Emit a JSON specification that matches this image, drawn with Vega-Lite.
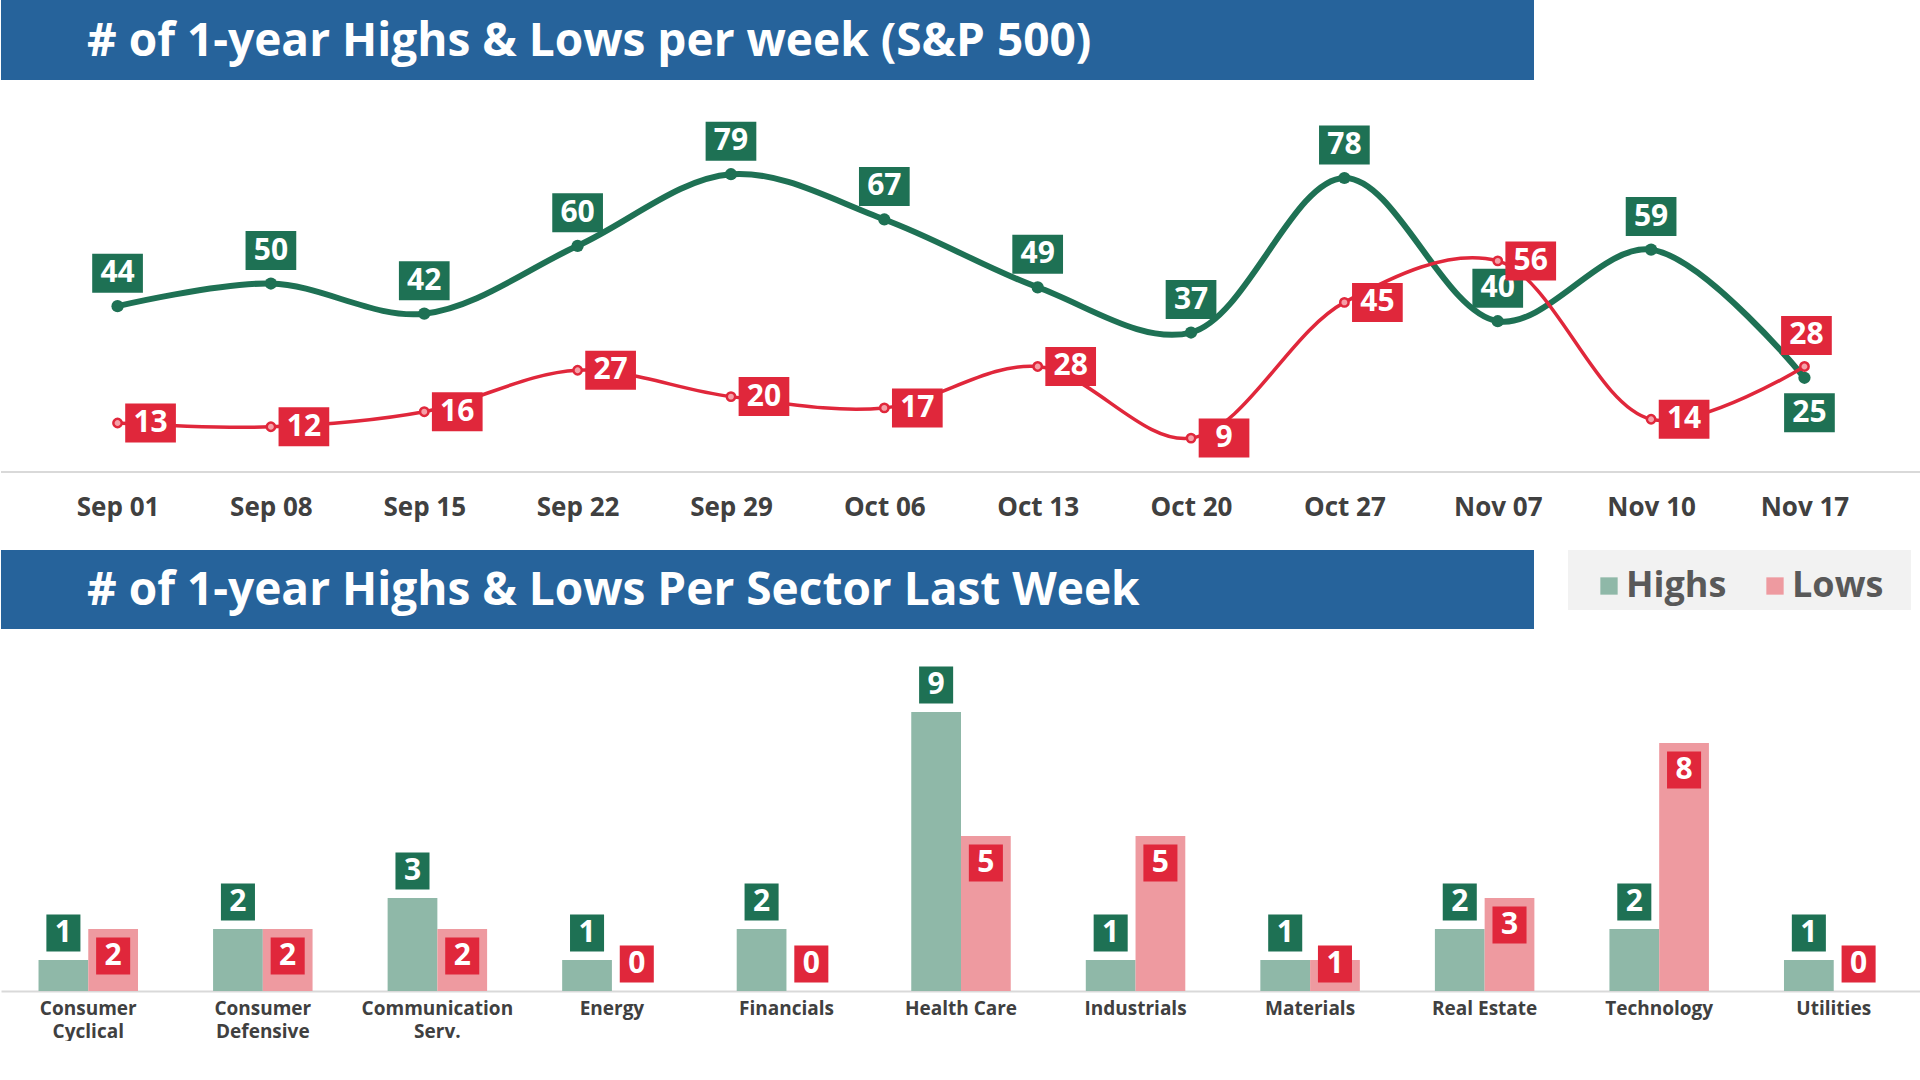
{
  "$schema": "https://vega.github.io/schema/vega-lite/v6.json",
  "padding": 0,
  "spacing": 0,
  "background": "white",
  "config": {"view": {"stroke": null}, "font": "Open Sans", "concat": {"spacing": 0}},
  "vconcat": [
    {
      "width": 1533, "height": 80,
      "view": {"fill": "#26639b", "stroke": null},
      "data": {"values": [{"t": "# of 1-year Highs & Lows per week (S&P 500)"}]},
      "mark": {"type": "text", "color": "white", "fontSize": 46, "fontWeight": "bold", "align": "left", "baseline": "middle"},
      "encoding": {"x": {"value": 86}, "y": {"value": 42}, "text": {"field": "t"}}
    },
    {
      "width": 1920, "height": 392,
      "data": {"values": [
        {"date": "Sep 01", "series": "Highs", "v": 44}, {"date": "Sep 08", "series": "Highs", "v": 50},
        {"date": "Sep 15", "series": "Highs", "v": 42}, {"date": "Sep 22", "series": "Highs", "v": 60},
        {"date": "Sep 29", "series": "Highs", "v": 79}, {"date": "Oct 06", "series": "Highs", "v": 67},
        {"date": "Oct 13", "series": "Highs", "v": 49}, {"date": "Oct 20", "series": "Highs", "v": 37},
        {"date": "Oct 27", "series": "Highs", "v": 78}, {"date": "Nov 07", "series": "Highs", "v": 40},
        {"date": "Nov 10", "series": "Highs", "v": 59}, {"date": "Nov 17", "series": "Highs", "v": 25},
        {"date": "Sep 01", "series": "Lows", "v": 13}, {"date": "Sep 08", "series": "Lows", "v": 12},
        {"date": "Sep 15", "series": "Lows", "v": 16}, {"date": "Sep 22", "series": "Lows", "v": 27},
        {"date": "Sep 29", "series": "Lows", "v": 20}, {"date": "Oct 06", "series": "Lows", "v": 17},
        {"date": "Oct 13", "series": "Lows", "v": 28}, {"date": "Oct 20", "series": "Lows", "v": 9},
        {"date": "Oct 27", "series": "Lows", "v": 45}, {"date": "Nov 07", "series": "Lows", "v": 56},
        {"date": "Nov 10", "series": "Lows", "v": 14}, {"date": "Nov 17", "series": "Lows", "v": 28}
      ]},
      "encoding": {
        "x": {"field": "date", "type": "ordinal", "sort": null, "scale": {"type": "point", "padding": 0.76},
          "axis": {"title": null, "domain": false, "ticks": false, "labelFontSize": 26, "labelFontWeight": "bold", "labelColor": "#404040", "labelPadding": 22, "labelAngle": 0, "minExtent": 78}},
        "y": {"field": "v", "type": "quantitative", "scale": {"domain": [0, 104], "nice": false}, "axis": null}
      },
      "layer": [
        {"mark": {"type": "rule", "color": "#d9d9d9", "strokeWidth": 2}, "encoding": {"x": null, "y": {"datum": 0}}},
        {"transform": [{"filter": "datum.series=='Highs'"}], "mark": {"type": "line", "interpolate": "catmull-rom", "color": "#1e7154", "strokeWidth": 6}},
        {"transform": [{"filter": "datum.series=='Lows'"}], "mark": {"type": "line", "interpolate": "catmull-rom", "color": "#e0273b", "strokeWidth": 3.5}},
        {"transform": [{"filter": "datum.series=='Highs'"}], "mark": {"type": "circle", "color": "#1e7154", "size": 150, "opacity": 1}},
        {"transform": [{"filter": "datum.series=='Lows'"}], "mark": {"type": "circle", "fill": "#f5a0a8", "stroke": "#e0273b", "strokeWidth": 2.5, "size": 70, "opacity": 1}},
        {"transform": [{"filter": "datum.series=='Highs' && datum.date!='Nov 17'"}],
          "mark": {"type": "point", "shape": "M-1.3,-1H1.3V1H-1.3Z", "filled": true, "color": "#1e7154", "size": 1521, "opacity": 1, "yOffset": -33}},
        {"transform": [{"filter": "datum.series=='Highs' && datum.date!='Nov 17'"}],
          "mark": {"type": "text", "color": "white", "fontSize": 30, "fontWeight": "bold", "baseline": "middle", "yOffset": -33},
          "encoding": {"text": {"field": "v"}}},
        {"transform": [{"filter": "datum.series=='Highs' && datum.date=='Nov 17'"}],
          "mark": {"type": "point", "shape": "M-1.3,-1H1.3V1H-1.3Z", "filled": true, "color": "#1e7154", "size": 1521, "opacity": 1, "xOffset": 5, "yOffset": 35}},
        {"transform": [{"filter": "datum.series=='Highs' && datum.date=='Nov 17'"}],
          "mark": {"type": "text", "color": "white", "fontSize": 30, "fontWeight": "bold", "baseline": "middle", "xOffset": 5, "yOffset": 35},
          "encoding": {"text": {"field": "v"}}},
        {"transform": [{"filter": "datum.series=='Lows' && datum.date!='Nov 17'"}],
          "mark": {"type": "point", "shape": "M-1.3,-1H1.3V1H-1.3Z", "filled": true, "color": "#e0273b", "size": 1521, "opacity": 1, "xOffset": 33}},
        {"transform": [{"filter": "datum.series=='Lows' && datum.date!='Nov 17'"}],
          "mark": {"type": "text", "color": "white", "fontSize": 30, "fontWeight": "bold", "baseline": "middle", "xOffset": 33},
          "encoding": {"text": {"field": "v"}}},
        {"transform": [{"filter": "datum.series=='Lows' && datum.date=='Nov 17'"}],
          "mark": {"type": "point", "shape": "M-1.3,-1H1.3V1H-1.3Z", "filled": true, "color": "#e0273b", "size": 1521, "opacity": 1, "xOffset": 2, "yOffset": -31}},
        {"transform": [{"filter": "datum.series=='Lows' && datum.date=='Nov 17'"}],
          "mark": {"type": "text", "color": "white", "fontSize": 30, "fontWeight": "bold", "baseline": "middle", "xOffset": 2, "yOffset": -31},
          "encoding": {"text": {"field": "v"}}}
      ]
    },
    {
      "hconcat": [
        {
          "width": 1533, "height": 79,
          "view": {"fill": "#26639b", "stroke": null},
          "data": {"values": [{"t": "# of 1-year Highs & Lows Per Sector Last Week"}]},
          "mark": {"type": "text", "color": "white", "fontSize": 46, "fontWeight": "bold", "align": "left", "baseline": "middle"},
          "encoding": {"x": {"value": 86}, "y": {"value": 41}, "text": {"field": "t"}}
        },
        {
          "width": 343, "height": 60,
          "view": {"fill": "#f2f2f2", "stroke": null},
          "data": {"values": [{"k": "Highs"}, {"k": "Lows"}]},
          "encoding": {
            "x": {"field": "k", "type": "nominal", "scale": {"type": "point", "range": [41, 207], "padding": 0}, "axis": null},
            "y": {"value": 36}
          },
          "layer": [
            {"mark": {"type": "square", "size": 300, "opacity": 1},
              "encoding": {"color": {"field": "k", "type": "nominal", "scale": {"domain": ["Highs", "Lows"], "range": ["#8fb8a8", "#ee9aa0"]}, "legend": null}}},
            {"mark": {"type": "text", "align": "left", "baseline": "middle", "dx": 17, "fontSize": 36, "fontWeight": "bold", "color": "#595959"},
              "encoding": {"text": {"field": "k"}}}
          ]
        }
      ],
      "spacing": 34
    },
    {
      "width": 1920, "height": 362,
      "data": {"values": [
        {"sector": "Consumer|Cyclical", "series": "Highs", "n": 1}, {"sector": "Consumer|Cyclical", "series": "Lows", "n": 2},
        {"sector": "Consumer|Defensive", "series": "Highs", "n": 2}, {"sector": "Consumer|Defensive", "series": "Lows", "n": 2},
        {"sector": "Communication|Serv.", "series": "Highs", "n": 3}, {"sector": "Communication|Serv.", "series": "Lows", "n": 2},
        {"sector": "Energy", "series": "Highs", "n": 1}, {"sector": "Energy", "series": "Lows", "n": 0},
        {"sector": "Financials", "series": "Highs", "n": 2}, {"sector": "Financials", "series": "Lows", "n": 0},
        {"sector": "Health Care", "series": "Highs", "n": 9}, {"sector": "Health Care", "series": "Lows", "n": 5},
        {"sector": "Industrials", "series": "Highs", "n": 1}, {"sector": "Industrials", "series": "Lows", "n": 5},
        {"sector": "Materials", "series": "Highs", "n": 1}, {"sector": "Materials", "series": "Lows", "n": 1},
        {"sector": "Real Estate", "series": "Highs", "n": 2}, {"sector": "Real Estate", "series": "Lows", "n": 3},
        {"sector": "Technology", "series": "Highs", "n": 2}, {"sector": "Technology", "series": "Lows", "n": 8},
        {"sector": "Utilities", "series": "Highs", "n": 1}, {"sector": "Utilities", "series": "Lows", "n": 0}
      ]},
      "encoding": {
        "x": {"field": "sector", "type": "nominal", "sort": null, "scale": {"paddingInner": 0.43, "paddingOuter": 0.215},
          "axis": {"title": null, "ticks": false, "domainColor": "#d9d9d9", "domainWidth": 2, "labelAngle": 0, "labelFontSize": 19, "labelFontWeight": "bold", "labelColor": "#404040", "labelPadding": 8, "labelLineHeight": 23, "labelExpr": "split(datum.label, '|')"}},
        "xOffset": {"field": "series", "type": "nominal", "scale": {"paddingInner": 0}},
        "y": {"field": "n", "type": "quantitative", "scale": {"domain": [0, 11.68], "nice": false}, "axis": null}
      },
      "layer": [
        {"mark": {"type": "bar"},
          "encoding": {"color": {"field": "series", "type": "nominal", "scale": {"domain": ["Highs", "Lows"], "range": ["#8fb8a8", "#ee9aa0"]}, "legend": null}}},
        {"transform": [{"filter": "datum.series=='Highs'"}],
          "mark": {"type": "point", "shape": "M-0.92,-1H0.92V1H-0.92Z", "filled": true, "size": 1369, "opacity": 1, "color": "#1e7154", "yOffset": -27}},
        {"transform": [{"filter": "datum.series=='Lows' && datum.n>1"}],
          "mark": {"type": "point", "shape": "M-0.92,-1H0.92V1H-0.92Z", "filled": true, "size": 1369, "opacity": 1, "color": "#e0273b", "yOffset": 27}},
        {"transform": [{"filter": "datum.series=='Lows' && datum.n==1"}],
          "mark": {"type": "point", "shape": "M-0.92,-1H0.92V1H-0.92Z", "filled": true, "size": 1369, "opacity": 1, "color": "#e0273b", "yOffset": 4}},
        {"transform": [{"filter": "datum.series=='Lows' && datum.n==0"}],
          "mark": {"type": "point", "shape": "M-0.92,-1H0.92V1H-0.92Z", "filled": true, "size": 1369, "opacity": 1, "color": "#e0273b", "yOffset": -27}},
        {"transform": [{"filter": "!(datum.series=='Lows' && datum.n>0)"}],
          "mark": {"type": "text", "color": "white", "fontSize": 30, "fontWeight": "bold", "baseline": "middle", "yOffset": -27},
          "encoding": {"text": {"field": "n"}}},
        {"transform": [{"filter": "datum.series=='Lows' && datum.n>1"}],
          "mark": {"type": "text", "color": "white", "fontSize": 30, "fontWeight": "bold", "baseline": "middle", "yOffset": 27},
          "encoding": {"text": {"field": "n"}}},
        {"transform": [{"filter": "datum.series=='Lows' && datum.n==1"}],
          "mark": {"type": "text", "color": "white", "fontSize": 30, "fontWeight": "bold", "baseline": "middle", "yOffset": 4},
          "encoding": {"text": {"field": "n"}}}
      ]
    }
  ]
}
